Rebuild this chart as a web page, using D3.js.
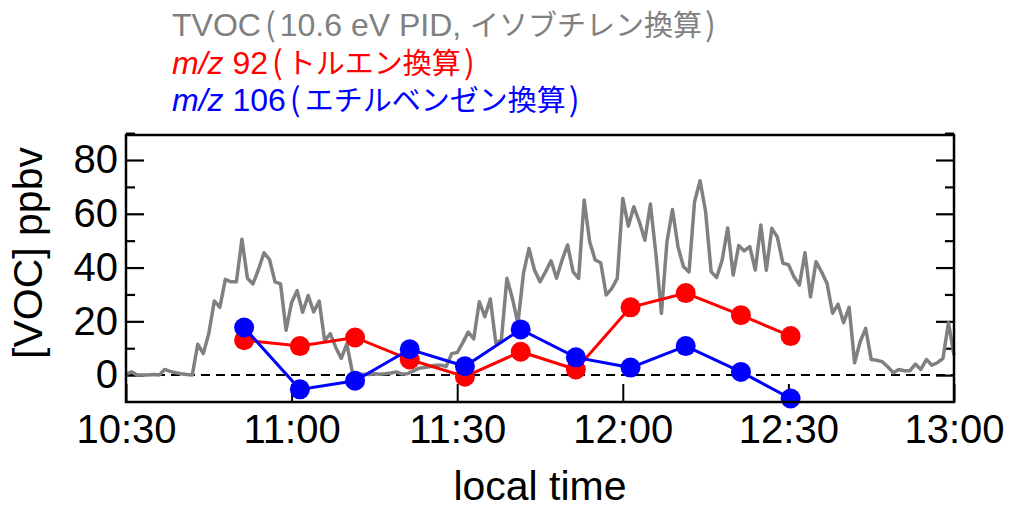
<!DOCTYPE html>
<html><head><meta charset="utf-8">
<script src="https://cdn.jsdelivr.net/npm/d3@7"></script>
<style>
body{margin:0;background:#fff}
svg{display:block}
text{font-family:"Liberation Sans",Arial,"Noto Sans CJK JP",sans-serif}
.cjk{font-family:"Noto Sans CJK JP",sans-serif}
</style>
</head><body>
<svg id="c" width="1010" height="508"></svg>
<script>
// ---- data ----
const tvocStart = "10:30";          // first TVOC sample
const tvocStepMinutes = 1;          // sampling interval
const tvocValues = [
  0.3, 1.2, 0, 0, 0, 0.2, 0, 2.1, 1.4, 0.9, 0.5, 0.2, 0,
  11.5, 8, 15.5, 27.6, 25.2, 35.6, 34.7, 34.7, 50.5, 36, 33.9, 39.3, 45.5, 43, 34.7, 33.9,
  16.7, 27, 31.4, 23.4, 29.6, 23.5, 27.5, 12.7, 15.4, 10.3, 6.2, 11.6, 1.2,
  0.3, 0.3, 0.2, 0.5, 0.3, 0.5, 0.8, 1.2, 0.4, 0.5, 1.5, 2.5, 2.8, 3.1, 3.7, 3.7, 3.2,
  8, 8.4, 12, 16, 13.5, 27.3, 21.7, 28.3, 12, 13, 36, 28.5, 19.2, 37.8, 47.1, 39.1, 34.7,
  38.4, 42.5, 36, 42.8, 48.4, 38.4, 36, 65.1, 49.6, 42.8, 41.8, 29.8, 32.2, 36, 65.7, 55.4, 62.6,
  57, 50.2, 63.6, 45, 23, 49.6, 61.6, 47.7, 40.3, 38.4, 64.5, 72.3, 60.8, 38.5, 36.3, 42.8,
  54.7, 37.2, 48.2, 46.2, 47.8, 39.1, 55.8, 39, 54.6, 51.3, 41.6, 41.1, 36.6, 33.5, 45.5,
  29.1, 42.2, 38.4, 34.1, 23, 26.4, 19.5, 25.2, 4.6, 12.4, 17.4, 5.8, 5.5, 5, 3.1, 0.9,
  2.1, 1.6, 1.6, 4.1, 2.1, 5.8, 3.7, 4.6, 6.2, 19.5, 7.4
];
const pointTimes = ["10:51:24","11:01:30","11:11:30","11:21:24","11:31:24","11:41:30",
                    "11:51:30","12:01:24","12:11:24","12:21:24","12:30:24"];
const toluene      = [13, 10.8, 14, 5.8, -0.6, 8.7, 2.1, 25.2, 30.5, 22.3, 14.5];
const ethylbenzene = [17.7, -5.3, -2.1, 9.6, 3.3, 17, 6.6, 2.8, 10.8, 1.2, -8.7];
const xTickLabels = ["10:30","11:00","11:30","12:00","12:30","13:00"];
const yTickLabels = [0, 20, 40, 60, 80];
const yMinorTicks = [10, 30, 50, 70, 90];
const yDomain = [-10, 89.3];
const xDomain = ["10:30", "13:00"];
const legendNames = [
  ["TVOC", "10.6 eV PID, ", "イソブチレン換算"],
  ["m/z", " 92", "トルエン換算"],
  ["m/z", " 106", "エチルベンゼン換算"]
];

// ---- helpers ----
const parseT = s => { const p = s.split(":").map(Number); return new Date(2000,0,1,p[0],p[1],p[2]||0); };

const svg = d3.select("#c");
const L = 126, R = 954, T = 135, B = 402;

const x = d3.scaleTime().domain(xDomain.map(parseT)).range([L, R]);
const y = d3.scaleLinear().domain(yDomain).range([B, T]);

const t0 = parseT(tvocStart);
const tvoc = tvocValues.map((v, i) => ({t: new Date(+t0 + i * tvocStepMinutes * 60000), v}));
const pts = pointTimes.map(parseT);

// axes
const fmt = d3.timeFormat("%H:%M");
const xTicks = xTickLabels.map(parseT);
const gx = svg.append("g").attr("transform", `translate(0,${B})`)
  .call(d3.axisBottom(x).tickValues(xTicks).tickFormat(fmt).tickSize(-18).tickPadding(13));
gx.select(".domain").remove();
gx.selectAll(".tick line").attr("stroke", "#000").attr("stroke-width", 2);
gx.selectAll("text").attr("font-size", 40).attr("fill", "#000");

const gy = svg.append("g").attr("transform", `translate(${L},0)`)
  .call(d3.axisLeft(y).tickValues(yTickLabels).tickSize(-18).tickPadding(8));
gy.select(".domain").remove();
gy.selectAll(".tick line").attr("stroke", "#000").attr("stroke-width", 2.2);
gy.selectAll("text").attr("font-size", 40).attr("fill", "#000");

const gym = svg.append("g").attr("transform", `translate(${L},0)`)
  .call(d3.axisLeft(y).tickValues(yMinorTicks).tickSize(-9).tickFormat(""));
gym.select(".domain").remove();
gym.selectAll(".tick line").attr("stroke", "#000").attr("stroke-width", 2.2);

const gr = svg.append("g").attr("transform", `translate(${R},0)`)
  .call(d3.axisRight(y).tickValues(yTickLabels).tickSize(-18).tickFormat(""));
gr.select(".domain").remove();
gr.selectAll(".tick line").attr("stroke", "#000").attr("stroke-width", 2.2);
const grm = svg.append("g").attr("transform", `translate(${R},0)`)
  .call(d3.axisRight(y).tickValues(yMinorTicks).tickSize(-9).tickFormat(""));
grm.select(".domain").remove();
grm.selectAll(".tick line").attr("stroke", "#000").attr("stroke-width", 2.2);

// zero dashed line
svg.append("line").attr("x1", L).attr("x2", R).attr("y1", y(0)).attr("y2", y(0))
  .attr("stroke", "#000").attr("stroke-width", 2).attr("stroke-dasharray", "9,6");

// TVOC line
const line = d3.line().x(d => x(d.t)).y(d => y(d.v));
svg.append("path").datum(tvoc).attr("d", line).attr("fill", "none")
  .attr("stroke", "#808080").attr("stroke-width", 3.5).attr("stroke-linejoin", "round");

function series(vals, color) {
  const d = vals.map((v, i) => ({t: pts[i], v}));
  svg.append("path").datum(d).attr("d", line).attr("fill", "none")
    .attr("stroke", color).attr("stroke-width", 3);
  svg.append("g").selectAll("circle").data(d).join("circle")
    .attr("cx", p => x(p.t)).attr("cy", p => y(p.v)).attr("r", 10).attr("fill", color);
}
series(toluene, "#ff0000");
series(ethylbenzene, "#0000ff");

// frame
svg.append("rect").attr("x", L).attr("y", T).attr("width", R - L).attr("height", B - T)
  .attr("fill", "none").attr("stroke", "#000").attr("stroke-width", 2.5);

// axis titles
svg.append("text").attr("x", 540).attr("y", 500).attr("text-anchor", "middle")
  .attr("font-size", 41).text("local time");
svg.append("text").attr("transform", "translate(42,253) rotate(-90)").attr("text-anchor", "middle")
  .attr("font-size", 41).text("[VOC] ppbv");

// legend
const legendColors = ["#808080", "#ff0000", "#0000ff"];
const legendY = [36, 74, 111];
legendNames.forEach((n, i) => {
  const t = svg.append("text").attr("x", 172).attr("y", legendY[i]).attr("font-size", 32)
    .attr("fill", legendColors[i]);
  t.append("tspan").attr("font-style", n[0] === "m/z" ? "italic" : null).text(n[0]);
  t.append("tspan").text(n[0] === "m/z" ? n[1] : "");
  t.append("tspan").attr("class", "cjk").attr("dx", 4).text("(");
  if (n[0] !== "m/z") t.append("tspan").attr("dx", 4).text(n[1]);
  t.append("tspan").attr("class", "cjk").attr("font-size", 29).attr("dx", n[0] === "m/z" ? 4 : 0).text(n[2]);
  t.append("tspan").attr("class", "cjk").attr("dx", 3).text(")");
});
</script>
</body></html>
